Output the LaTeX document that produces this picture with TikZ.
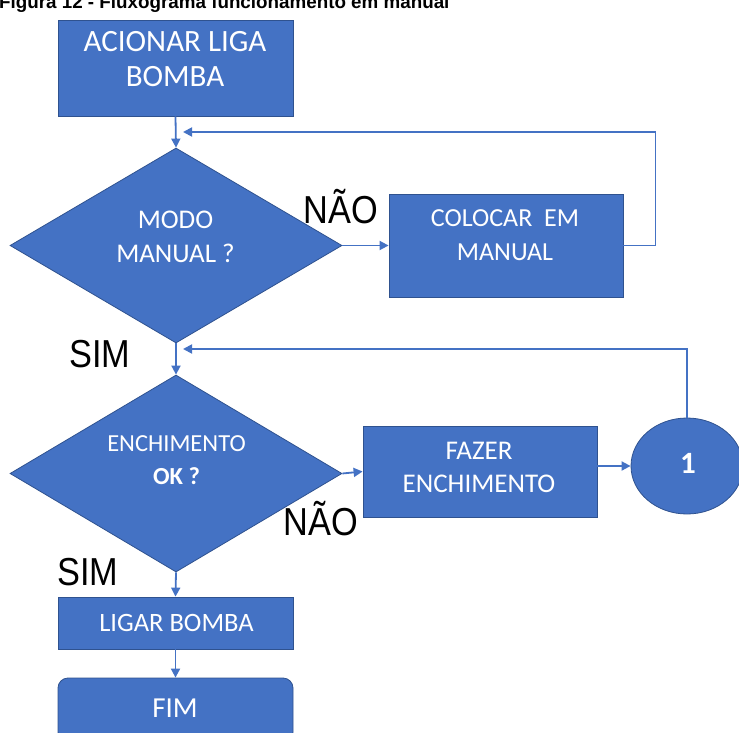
\documentclass[tikz,border=0pt]{standalone}
\usepackage{fontspec}
\setmainfont{Carlito}
\newfontfamily\labelfont[FakeStretch=0.88]{Liberation Sans}
\newfontfamily\capfont{Liberation Sans}
\usetikzlibrary{shapes.geometric,arrows.meta}
\definecolor{boxblue}{HTML}{4472C4}
\definecolor{edgeblue}{HTML}{2F528F}
\tikzset{
  boxbase/.style={fill=boxblue, draw=edgeblue, line width=0.8pt, inner sep=0pt},
  procbox/.style={boxbase, rectangle},
  decision/.style={boxbase, diamond},
  connector/.style={boxbase, ellipse},
  boxtext/.style={text=white, align=center, inner sep=0pt, anchor=center},
  conn/.style={draw=boxblue, line width=1.8pt,
    -{Triangle[length=9pt,width=9pt]}},
  answer/.style={font=\labelfont\fontsize{39}{39}\selectfont, inner sep=0pt},
}
\newcommand{\fs}[2]{\fontsize{#1}{#2}\selectfont}
\begin{document}
\begin{tikzpicture}[x=1pt,y=-1pt]
\useasboundingbox (0,0) rectangle (739,733);

% caption above the chart
\node[anchor=base west, inner sep=0pt,
      font=\capfont\bfseries\fs{18.8}{19}] (cap) at (-1,8.5)
  {Figura 12 - Fluxograma funcionamento em manual};

% shapes of the steps
\node[procbox, minimum width=235pt, minimum height=96pt] (start) at (175.5,68) {};
\node[decision, minimum width=332pt, minimum height=195pt] (modo) at (176,245.5) {};
\node[procbox, minimum width=234pt, minimum height=103pt] (colocar) at (506,245.5) {};
\node[decision, minimum width=332pt, minimum height=197pt] (ench) at (176,473.5) {};
\node[procbox, minimum width=234pt, minimum height=91pt] (fazer) at (480,471.5) {};
\node[connector, minimum width=112pt, minimum height=96pt] (um) at (687,466) {};
\node[procbox, minimum width=235pt, minimum height=52pt] (ligar) at (175.5,623) {};
\node[procbox, rounded corners=10pt, minimum width=235pt, minimum height=64pt] (fim)
  at (175.5,710) {};

% texts of the steps
\node[boxtext, font=\fs{31}{35}] (start-t) at (175,59.5) {ACIONAR LIGA\\BOMBA};
\node[boxtext, font=\fs{27}{34}] (modo-t) at (175.5,237) {MODO\\MANUAL ?};
\node[boxtext, font=\fs{26}{34}] (colocar-t) at (505,235.5) {COLOCAR\ \ EM\\MANUAL};
\node[boxtext, font=\fs{24.5}{33}] (ench-t) at (176.5,460.5) {ENCHIMENTO\\\textbf{OK ?}};
\node[boxtext, font=\fs{27}{33}] (fazer-t) at (479,467) {FAZER\\ENCHIMENTO};
\node[boxtext, font=\bfseries\fs{31}{31}] (um-t) at (688,463) {1};
\node[boxtext, font=\fs{26.5}{30}] (ligar-t) at (176.5,622.5) {LIGAR BOMBA};
\node[boxtext, font=\fs{29}{30}] (fim-t) at (175,708) {FIM};

% return points on the main line
\coordinate (back1) at (183,132);
\coordinate (back2) at (183,349);

% answers
\node[answer] (nao1) at (341,207) {NÃO};
\node[answer] (sim1) at (100,354) {SIM};
\node[answer] (nao2) at (321,519) {NÃO};
\node[answer] (sim2) at (88,572) {SIM};

% flow
\draw[conn] (start.south) -- (modo.north);
\draw[conn] (modo.east) -- (colocar.west);
\draw[conn] (colocar.east) -- ++(32,0) |- (back1);
\draw[conn] (modo.south) -- (ench.north);
\draw[conn] (ench.east) -- (fazer.west);
\draw[conn] (fazer.east |- um.west) -- (um.west);
\draw[conn] (um.north) |- (back2);
\draw[conn] (ench.south) -- (ligar.north);
\draw[conn] (ligar.south) -- (fim.north);
\end{tikzpicture}
\end{document}
